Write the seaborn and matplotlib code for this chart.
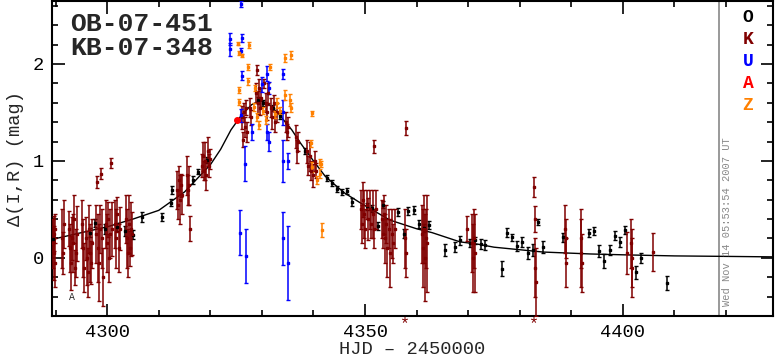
import matplotlib
matplotlib.use("Agg")
import matplotlib.pyplot as plt
import seaborn as sns
import pandas as pd
from matplotlib.ticker import MultipleLocator

# ==== Data ====
# model curve
model_t = [4289.3, 4295, 4300, 4305, 4310, 4315, 4320, 4322, 4324, 4326, 4328, 4329.5,
           4331, 4333, 4335.8, 4337.4, 4340, 4342.3, 4343.8, 4346, 4349, 4354.8, 4360,
           4363, 4368.4, 4372, 4375, 4384.5, 4393.7, 4401, 4410, 4420, 4429.1]
model_mag = [0.19, 0.26, 0.32, 0.40, 0.49, 0.68, 0.96, 1.12, 1.32, 1.47, 1.58, 1.62,
             1.60, 1.50, 1.32, 1.19, 1.00, 0.84, 0.77, 0.67, 0.57, 0.39, 0.30,
             0.26, 0.165, 0.14, 0.11, 0.06, 0.04, 0.03, 0.02, 0.015, 0.01]

# O (black)
o_t = [4289.5, 4296.7, 4297.7, 4299.5, 4302.0, 4303.5, 4305.0, 4306.8, 4310.7, 4312.6,
       4312.4, 4316.7, 4317.6, 4319.4, 4329.3, 4330.3, 4332.2, 4333.5, 4338.4, 4342.6,
       4343.6, 4344.6, 4345.5, 4346.5, 4347.5, 4350.4, 4351.4, 4352.5, 4353.5, 4356.4,
       4357.6, 4358.3, 4359.5, 4360.5, 4361.4, 4362.4, 4365.5, 4367.4, 4368.4, 4370.3,
       4371.3, 4372.5, 4373.3, 4376.5, 4377.5, 4378.5, 4379.5, 4380.4, 4381.6, 4382.6,
       4383.5, 4384.5, 4388.4, 4393.4, 4394.4, 4395.3, 4396.3, 4397.5, 4398.4, 4399.4,
       4400.4, 4402.5, 4403.5, 4408.5]
o_mag = [0.19, 0.26, 0.36, 0.30, 0.32, 0.28, 0.24, 0.42, 0.42, 0.70,
         0.57, 0.80, 0.89, 1.01, 1.63, 1.60, 1.55, 1.46, 1.10, 0.82,
         0.77, 0.71, 0.68, 0.69, 0.58, 0.53, 0.51, 0.33, 0.55, 0.47,
         0.25, 0.48, 0.49, 0.35, 0.31, 0.34, 0.08, 0.11, 0.18, 0.15,
         0.18, 0.14, 0.13, -0.11, 0.26, 0.21, 0.12, 0.16, 0.05, 0.08,
         0.37, 0.11, 0.21, 0.26, 0.28, 0.07, -0.03, 0.08, 0.23, 0.16,
         0.29, -0.15, 0.00, -0.26]
o_err = [0.04, 0.05, 0.04, 0.05, 0.04, 0.05, 0.05, 0.05, 0.04, 0.04,
         0.04, 0.04, 0.03, 0.03, 0.03, 0.03, 0.03, 0.03, 0.03, 0.03,
         0.03, 0.03, 0.03, 0.03, 0.04, 0.04, 0.04, 0.04, 0.04, 0.04,
         0.05, 0.04, 0.04, 0.04, 0.04, 0.04, 0.06, 0.05, 0.05, 0.04,
         0.04, 0.05, 0.05, 0.08, 0.05, 0.04, 0.05, 0.05, 0.06, 0.06,
         0.03, 0.06, 0.05, 0.04, 0.04, 0.06, 0.07, 0.05, 0.05, 0.05,
         0.04, 0.07, 0.05, 0.07]

# K (dark red)
k_t = [4289.5, 4289.6, 4289.7, 4289.8, 4289.9, 4291.2, 4291.4, 4291.6,
       4292.6, 4292.8, 4293.0, 4293.2, 4293.4, 4293.6, 4293.8, 4294.0, 4294.2,
       4295.2, 4295.4, 4295.6, 4295.8, 4296.0, 4296.2, 4296.4, 4296.6, 4296.8, 4297.0,
       4297.8, 4298.0, 4298.2, 4298.4, 4298.6, 4298.8, 4299.0, 4299.2,
       4299.8, 4300.0, 4300.2, 4300.4, 4300.6, 4300.8, 4301.0,
       4301.6, 4301.8, 4302.0, 4302.2, 4302.4,
       4303.6, 4303.8, 4304.0, 4304.2, 4304.4, 4304.6, 4304.8,
       4313.6, 4313.8, 4314.0, 4314.2, 4314.4, 4314.6,
       4315.4, 4315.6, 4315.8, 4316.0,
       4318.4, 4318.6, 4318.8, 4319.0, 4319.2, 4319.6, 4319.8, 4320.0,
       4326.2, 4326.4, 4326.6, 4326.8, 4327.0, 4327.2, 4327.6, 4327.8,
       4328.8, 4329.0, 4329.2, 4329.4, 4329.6, 4329.8,
       4330.5, 4330.7, 4330.9, 4331.1,
       4331.7, 4332.0, 4332.3, 4332.6, 4332.9,
       4334.6, 4334.8, 4335.0, 4336.6, 4336.8, 4337.0,
       4338.8, 4339.0, 4339.3, 4339.6, 4339.9, 4340.2, 4340.5,
       4349.2, 4349.4, 4349.6, 4349.8, 4350.0, 4350.3, 4350.6, 4350.9, 4351.2,
       4351.5, 4351.8, 4352.1, 4351.7,
       4353.2, 4353.4, 4353.6, 4353.8, 4354.0, 4354.3, 4354.6, 4354.9, 4355.2,
       4355.5, 4355.8,
       4357.8, 4358.0, 4357.9,
       4361.0, 4361.2, 4361.4, 4361.6, 4361.8, 4362.0,
       4369.8, 4370.8, 4371.0, 4371.2, 4371.4,
       4382.7, 4382.9, 4383.0, 4383.1,
       4388.8, 4388.9, 4389.0, 4391.8, 4391.9, 4392.0,
       4400.8, 4401.6, 4401.7, 4401.8, 4405.8]
k_mag = [0.15, 0.05, 0.25, -0.05, 0.30, 0.20, 0.05, 0.35,
         0.30, 0.10, -0.05, 0.20, 0.15, 0.40, -0.10, 0.05, 0.25,
         0.35, 0.10, -0.10, 0.20, 0.00, -0.15, 0.30, 0.05, -0.05, 0.15,
         0.25, 0.78, 0.10, -0.05, 0.30, 0.87, 0.20, -0.20,
         0.35, 0.15, 0.40, 0.00, 0.25, 0.98, 0.30,
         0.35, 0.20, 0.45, 0.10, 0.30,
         0.40, 0.20, 0.05, 0.35, 0.10, 0.30, 0.25,
         0.70, 0.55, 0.80, 0.60, 0.75, 0.65,
         0.85, 0.70, 0.75, 0.30,
         0.95, 1.05, 0.90, 1.00, 0.85, 1.10, 0.95, 1.02,
         1.45, 1.22, 1.50, 1.35, 1.55, 1.30, 1.55, 1.45,
         1.70, 1.94, 1.60, 1.75, 1.55, 1.65,
         1.80, 1.60, 1.50, 1.70,
         1.55, 1.45, 1.60, 1.40, 1.50,
         1.40, 1.30, 1.35, 1.25, 1.10, 1.20,
         1.10, 0.95, 1.05, 0.90, 0.85, 1.00, 0.90,
         0.50, 0.35, 0.60, 0.45, 0.30, 0.55, 0.40, 0.50, 0.35,
         0.45, 0.30, 0.50, 1.15,
         0.40, 0.25, 0.45, 0.20, 0.35, 0.10, 0.30, 0.05, 0.25,
         0.15, 0.30,
         0.20, 0.05, 1.34,
         0.25, 0.10, 0.30, 0.00, 0.20, 0.15,
         0.30, 0.15, 0.00, 0.20, 0.05,
         0.73, 0.40, -0.10, -0.25,
         0.30, 0.20, -0.05, 0.20, 0.05, -0.05,
         0.05, 0.15, 0.00, -0.10, 0.06]
k_err = [0.25, 0.28, 0.18, 0.25, 0.15, 0.30, 0.22, 0.25,
         0.18, 0.25, 0.28, 0.22, 0.30, 0.25, 0.18, 0.25, 0.28,
         0.25, 0.30, 0.25, 0.22, 0.28, 0.25, 0.25, 0.30, 0.22, 0.25,
         0.30, 0.06, 0.35, 0.40, 0.25, 0.06, 0.30, 0.30,
         0.25, 0.30, 0.18, 0.25, 0.25, 0.05, 0.28,
         0.25, 0.30, 0.18, 0.25, 0.22,
         0.25, 0.30, 0.25, 0.30, 0.18, 0.28, 0.22,
         0.20, 0.15, 0.15, 0.25, 0.12, 0.20,
         0.20, 0.15, 0.20, 0.13,
         0.12, 0.15, 0.10, 0.20, 0.15, 0.15, 0.12, 0.10,
         0.12, 0.08, 0.10, 0.10, 0.08, 0.10, 0.10, 0.08,
         0.10, 0.05, 0.12, 0.10, 0.08, 0.10,
         0.05, 0.10, 0.08, 0.10,
         0.10, 0.12, 0.08, 0.10, 0.10,
         0.10, 0.08, 0.10, 0.12, 0.12, 0.10,
         0.12, 0.10, 0.15, 0.10, 0.12, 0.10, 0.08,
         0.20, 0.20, 0.18, 0.25, 0.20, 0.15, 0.22, 0.20, 0.15,
         0.25, 0.20, 0.20, 0.07,
         0.20, 0.15, 0.20, 0.25, 0.20, 0.30, 0.20, 0.35, 0.25,
         0.20, 0.20,
         0.30, 0.25, 0.07,
         0.30, 0.40, 0.35, 0.45, 0.30, 0.50,
         0.13, 0.30, 0.35, 0.30, 0.40,
         0.10, 0.13, 0.30, 0.35,
         0.25, 0.20, 0.25, 0.30, 0.35, 0.30,
         0.22, 0.25, 0.30, 0.30, 0.20]

# U (blue)
u_t = [4323.8, 4323.9, 4326.0, 4326.1, 4326.0, 4326.1, 4325.9, 4326.7, 4325.8, 4327.0,
       4330.0, 4331.0, 4331.4, 4334.0, 4334.0, 4334.0, 4334.1, 4335.0, 4335.0, 4328.0,
       4331.0, 4331.4]
u_mag = [2.26, 2.15, 2.62, 2.27, 2.13, 1.88, 1.47, 0.97, 0.26, 0.02,
         1.79, 1.90, 1.75, 1.90, 1.50, 1.00, 0.20, 1.00, -0.05, 1.30,
         1.30, 1.20]
u_err = [0.06, 0.07, 0.03, 0.04, 0.03, 0.05, 0.07, 0.18, 0.23, 0.28,
         0.08, 0.08, 0.06, 0.05, 0.13, 0.22, 0.27, 0.08, 0.38, 0.08,
         0.08, 0.10]

# Z (orange)
z_t = [4325.4, 4325.6, 4326.2, 4327.5, 4327.4, 4327.3, 4325.6, 4325.5, 4328.7, 4329.5,
       4331.6, 4334.5, 4335.6, 4334.5, 4335.4, 4335.6, 4333.5, 4330.2, 4328.5, 4339.7,
       4339.5, 4339.7, 4341.5, 4341.2, 4341.7, 4340.6, 4341.3, 4329.0, 4330.8, 4332.6,
       4333.0]
z_mag = [2.21, 2.11, 2.09, 2.20, 1.97, 1.82, 1.73, 1.61, 1.75, 1.37,
         1.97, 2.06, 2.09, 1.68, 1.63, 1.55, 1.52, 1.52, 1.56, 1.49,
         1.18, 0.94, 0.97, 0.87, 0.29, 0.80, 0.99, 1.45, 1.42, 1.48,
         1.60]
z_err = [0.015, 0.02, 0.015, 0.03, 0.03, 0.04, 0.03, 0.03, 0.03, 0.04,
         0.03, 0.04, 0.04, 0.05, 0.06, 0.05, 0.04, 0.04, 0.04, 0.03,
         0.04, 0.05, 0.03, 0.05, 0.07, 0.04, 0.03, 0.04, 0.04, 0.04,
         0.05]

# A (red)
a_t = [4325.2]
a_mag = [1.42]
a_err = [0.02]

labels = ["O", "K", "U", "A", "Z"]
colors = {"O": "black", "K": "#800000", "U": "#0000ff", "A": "#ff0000", "Z": "#ff8000"}

# ==== Plot ====
sns.set_style("ticks")
plt.rcParams["font.family"] = ["Liberation Mono", "DejaVu Sans"]

fig = plt.figure(figsize=(7.75, 3.62), dpi=100)
ax = fig.add_axes([52 / 775, 46 / 362, 721 / 775, 315 / 362])

df_model = pd.DataFrame({"t": model_t, "mag": model_mag})
sns.lineplot(data=df_model, x="t", y="mag", color="black", lw=1, ax=ax, zorder=2)

sets = [("O", o_t, o_mag, o_err), ("K", k_t, k_mag, k_err), ("U", u_t, u_mag, u_err),
        ("Z", z_t, z_mag, z_err)]
for name, t, m, e in sets:
    c = colors[name]
    ax.errorbar(t, m, yerr=e, fmt="s", ms=2, color=c, ecolor=c, elinewidth=1.1,
                capsize=1.5, capthick=1, zorder=3)
ax.errorbar(a_t, a_mag, yerr=a_err, fmt="o", ms=4, color=colors["A"], zorder=4)

ax.set_xlim(4289.3, 4429.1)
ax.set_ylim(-0.6, 2.65)
ax.xaxis.set_major_locator(MultipleLocator(50))
ax.xaxis.set_minor_locator(MultipleLocator(10))
ax.yaxis.set_major_locator(MultipleLocator(1))
ax.yaxis.set_minor_locator(MultipleLocator(0.2))
ax.tick_params(which="both", direction="in", top=True, right=True, width=1.2,
               labelsize=13.5, colors="black")
ax.tick_params(which="major", length=9, pad=6)
ax.tick_params(which="minor", length=4.5)
for s in ax.spines.values():
    s.set_linewidth(1.5)
    s.set_color("black")

ax.set_xlabel("HJD – 2450000", fontsize=13.5, labelpad=0)
ax.set_ylabel("Δ(I,R) (mag)", fontsize=13.5, labelpad=6)

# event names
ax.text(0.025, 0.965, "OB-07-451\nKB-07-348", transform=ax.transAxes, ha="left",
        va="top", fontsize=19, fontweight="bold", linespacing=1.0)

# observatory letters
for i, name in enumerate(labels):
    fig.text(748 / 775, 1 - (18 + 22 * i) / 362, name, color=colors[name],
             fontsize=13, fontweight="bold", ha="center", va="center")

# time stamp
ax.axvline(4418.7, color="#888888", lw=1.2, zorder=1)
ax.text(4420.1, 0.375, "Wed Nov 14 05:53:54 2007 UT", rotation=90, color="#888888",
        fontsize=7.5, ha="center", va="center")

# off-scale markers
ax.text(4293.2, -0.40, "A", fontsize=7, ha="center", va="center")
for tt in [4357.75, 4382.76]:
    ax.text(tt, -0.68, "*", color=colors["K"], fontsize=12, ha="center", va="center",
            clip_on=False)

fig.savefig("out.png", dpi=100)
